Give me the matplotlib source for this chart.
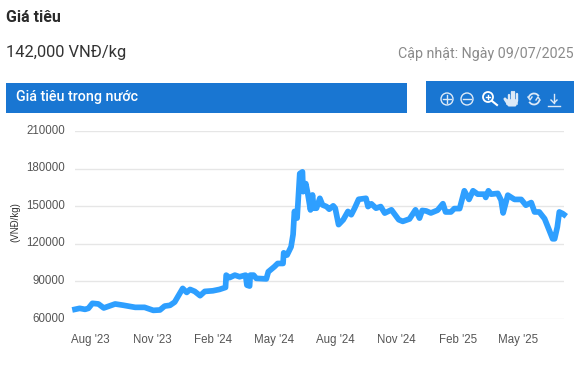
"""Giá tiêu price panel: header bars, toolbar icons and the price line."""

from datetime import date, timedelta

import matplotlib
matplotlib.use("agg")
from matplotlib import pyplot as plt
from matplotlib.patches import Arc, Circle, Rectangle
from matplotlib.transforms import ScaledTranslation

plt.rcParams["font.family"] = ["Roboto", "DejaVu Sans"]

START_DATE = date(2023, 7, 9)
END_DATE = date(2025, 7, 9)

# days after START_DATE, price in VND/kg
days = [
    0, 7, 15, 20, 26, 35, 43, 60, 72, 90, 104, 117, 127, 134, 142, 149, 161, 167, 172, 179,
    187, 194, 206, 216, 225, 226, 231, 239, 246, 255, 257, 261, 262, 267, 271, 286, 289, 298,
    303, 311, 312, 317, 323, 326, 328, 332, 336, 340, 341, 345, 348, 352, 355, 357, 361, 366,
    370, 376, 380, 386, 389, 394, 401, 408, 413, 418, 424, 435, 438, 443, 450, 457, 463, 473,
    484, 490, 500, 509, 515, 519, 525, 532, 542, 550, 554, 562, 567, 575, 582, 589, 595, 602,
    612, 614, 618, 622, 632, 637, 640, 647, 657, 667, 674, 682, 687, 694, 702, 709, 714, 717,
    721, 724, 729, 731,
]
prices = [
    67700, 68500, 67700, 68500, 72500, 72000, 68800, 72000, 71000, 69300, 69300, 66900, 67200,
    70300, 70900, 73500, 84400, 81200, 83600, 82000, 78600, 82000, 82500, 83600, 85200, 95000,
    93000, 95000, 93700, 95000, 87000, 86300, 95000, 95000, 92400, 92000, 97700, 101700, 104300,
    104300, 112800, 111000, 117600, 127400, 145800, 140500, 176000, 177400, 161600, 168000,
    160000, 147000, 159000, 148400, 148400, 156300, 151000, 149700, 147600, 150300, 148400,
    135300, 139200, 145800, 143200, 148400, 155500, 156300, 149700, 151900, 148400, 149700,
    144500, 147100, 139200, 137900, 139800, 147100, 140500, 146600, 146200, 144600, 146800,
    152000, 145400, 145400, 148100, 148100, 162300, 155400, 162300, 159600, 159600, 157000,
    162300, 159600, 160200, 154800, 144600, 158800, 155400, 155400, 150800, 152900, 145400,
    145400, 140000, 130700, 124000, 124000, 133400, 145400, 144100, 143300,
]
y_ticks = [60000, 90000, 120000, 150000, 180000, 210000]
x_tick_dates = [
    date(2023, 8, 1), date(2023, 11, 1), date(2024, 2, 1), date(2024, 5, 1),
    date(2024, 8, 1), date(2024, 11, 1), date(2025, 2, 1), date(2025, 5, 1),
]
x_tick_labels = ["Aug '23", "Nov '23", "Feb '24", "May '24", "Aug '24", "Nov '24", "Feb '25", "May '25"]

W, H = 584, 366
BLUE = "#1976d2"
LINE_BLUE = "#2e9fff"
ICON = "#dce9f7"

fig = plt.figure(figsize=(W / 100, H / 100), dpi=100, facecolor="white")

# overlay in pixel coordinates for the page furniture around the chart
page = fig.add_axes([0, 0, 1, 1])
page.set_xlim(0, W)
page.set_ylim(H, 0)
page.axis("off")

page.text(6, 17, "Giá tiêu", fontsize=11.4, fontweight="bold", color="#2b2b2b", va="center")
page.text(6, 52, "142,000 VNĐ/kg", fontsize=11.9, color="#333333", va="center")
page.text(574, 54, "Cập nhật: Ngày 09/07/2025", fontsize=10.3, color="#8a8a8a", va="center", ha="right")

page.add_patch(Rectangle((6, 83), 401, 30, color=BLUE, lw=0))
page.add_patch(Rectangle((426, 81), 148, 32, color=BLUE, lw=0))
page.text(16, 97, "Giá tiêu trong nước", fontsize=10.3, fontweight="medium", color="white", va="center")

# toolbar icons: zoom in, zoom out, magnifier, hand, refresh, download
page.add_patch(Circle((447, 99), 6, fc="none", ec=ICON, lw=1))
page.plot([443, 451], [99, 99], color=ICON, lw=1)
page.plot([447, 447], [95, 103], color=ICON, lw=1)
page.add_patch(Circle((467, 99), 6, fc="none", ec=ICON, lw=1))
page.plot([463, 471], [99, 99], color=ICON, lw=1)
page.add_patch(Circle((488, 97), 5, fc="none", ec="white", lw=1.3))
page.plot([492, 497], [101, 105], color="white", lw=1.5)
page.plot([486, 490], [97, 97], color="white", lw=1)
page.plot([488, 488], [95, 99], color="white", lw=1)
for finger_x, finger_top in zip([509, 511.5, 514, 516.5], [95, 92, 92, 94]):
    page.plot([finger_x, finger_x], [finger_top, 101], color=ICON, lw=1.7, solid_capstyle="round")
page.plot([505, 509, 515], [99, 105, 105], color=ICON, lw=2.2, solid_capstyle="round")
page.plot([509, 515], [102, 102], color=ICON, lw=4)
page.add_patch(Arc((534, 99), 11, 11, theta1=190, theta2=330, ec=ICON, lw=1.3))
page.add_patch(Arc((534, 99), 11, 11, theta1=10, theta2=150, ec=ICON, lw=1.3))
page.plot([528, 530, 532], [97, 100, 97], color=ICON, lw=1)
page.plot([536, 538, 540], [100, 97, 100], color=ICON, lw=1)
page.plot([554, 554], [94, 103], color=ICON, lw=1)
page.plot([551, 554, 557], [100, 103, 100], color=ICON, lw=1)
page.plot([548, 560], [105.5, 105.5], color=ICON, lw=1)

# chart area, gridlines run from x=75 to x=564 and y=131 to y=319
ax = fig.add_axes([75 / W, 1 - 319 / H, (564 - 75) / W, (319 - 131) / H])
ax.patch.set_alpha(0)
x_values = [START_DATE + timedelta(days=d) for d in days]
ax.plot(x_values, prices, color=LINE_BLUE, lw=4.1, solid_joinstyle="round", clip_on=False, zorder=3)
ax.set_xlim(START_DATE, END_DATE)
ax.set_ylim(60000, 210000)
ax.set_yticks(y_ticks, [str(v) for v in y_ticks])
ax.set_xticks(x_tick_dates, x_tick_labels)
ax.tick_params(axis="both", length=0, labelsize=8.3, labelcolor="#555555")
for tick_label in ax.get_xticklabels() + ax.get_yticklabels():
    tick_label.set_fontfamily("Liberation Sans")
ax.tick_params(axis="x", pad=11)
ax.tick_params(axis="y", pad=7)
# y labels sit about 2 px above their gridlines in the reference
label_shift = ScaledTranslation(0, 2 / 100, fig.dpi_scale_trans)
for tick_label in ax.get_yticklabels():
    tick_label.set_transform(tick_label.get_transform() + label_shift)
ax.grid(axis="y", color="#e6e6e6", lw=1)
ax.set_axisbelow(True)
for spine in ax.spines.values():
    spine.set_visible(False)

page.text(15, 222, "(VNĐ/kg)", fontsize=7, fontfamily="Liberation Sans", color="#333333",
          rotation=90, va="center", ha="center")

fig.savefig("out.png", dpi=100)
plt.close(fig)
